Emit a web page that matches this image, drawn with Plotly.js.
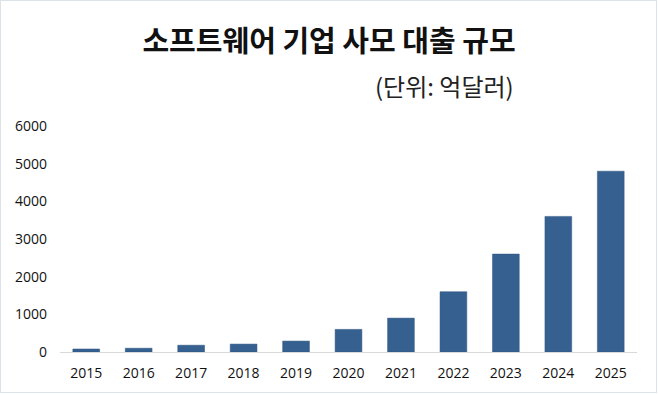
<!DOCTYPE html>
<html>
<head>
<meta charset="utf-8">
<script src="https://cdn.plot.ly/plotly-3.0.1.min.js"></script>
<style>
html,body{margin:0;padding:0;background:#fff;}
#wrap{position:relative;width:658px;height:395px;}
#chart{width:658px;height:395px;}
#frame{position:absolute;left:0;top:0;width:655px;height:391px;border:1.5px solid #dbe2ea;pointer-events:none;}
</style>
</head>
<body>
<div id="wrap"><div id="chart"></div><div id="frame"></div></div>
<script>
const years = ['2015','2016','2017','2018','2019','2020','2021','2022','2023','2024','2025'];
const values = [80, 100, 180, 210, 290, 600, 900, 1600, 2600, 3600, 4800];
const yTicks = [0, 1000, 2000, 3000, 4000, 5000, 6000];
const titleText = '소프트웨어 기업 사모 대출 규모';
const unitText = '(단위: 억달러)';

const trace = {
  type: 'bar',
  x: years,
  y: values,
  marker: {color: '#35608f', line: {color: '#2e5482', width: 0.5}},
  hoverinfo: 'x+y'
};

const layout = {
  width: 658,
  height: 395,
  margin: {l: 60, r: 21, t: 126, b: 43},
  paper_bgcolor: '#ffffff',
  plot_bgcolor: '#ffffff',
  bargap: 0.49,
  showlegend: false,
  title: {
    text: '<b>' + titleText + '</b>',
    x: 0.5, xref: 'container', xanchor: 'center',
    y: 1 - 42/395, yref: 'container', yanchor: 'middle',
    font: {family: '"Noto Sans CJK KR", sans-serif', size: 29, color: '#111111'}
  },
  annotations: [{
    text: unitText,
    xref: 'paper', yref: 'paper',
    x: (516-60)/577, y: (352-85)/226,
    xanchor: 'right', yanchor: 'middle',
    showarrow: false,
    font: {family: '"Noto Sans CJK KR", sans-serif', size: 24, color: '#222222'}
  }],
  xaxis: {
    type: 'category',
    range: [-0.5, 10.5],
    showline: true, linecolor: '#d9d9d9', linewidth: 1,
    showgrid: false, zeroline: false,
    ticks: '',
    ticklabelstandoff: 8,
    tickfont: {family: '"Open Sans", sans-serif', size: 14, color: '#111111'}
  },
  yaxis: {
    range: [0, 6000],
    tickmode: 'array',
    tickvals: yTicks,
    ticktext: yTicks.map(String),
    showline: false, showgrid: false, zeroline: false,
    ticks: '',
    ticklabelstandoff: 12,
    tickfont: {family: '"Open Sans", sans-serif', size: 14, color: '#111111'}
  }
};

Plotly.newPlot('chart', [trace], layout, {displayModeBar: false, staticPlot: true});
</script>
</body>
</html>
